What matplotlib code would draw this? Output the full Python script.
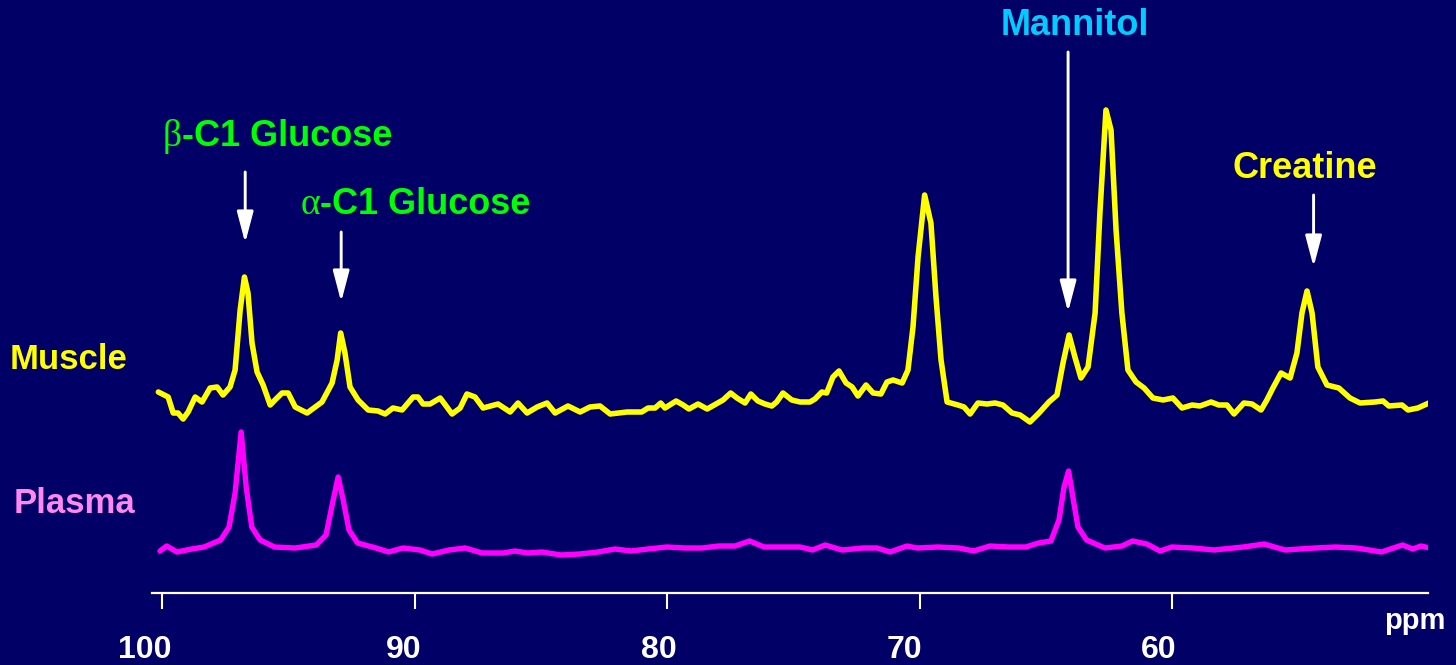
import numpy as np
import matplotlib.pyplot as plt
import matplotlib.transforms as mtransforms

# 13C spectra, chemical shift (ppm) and intensity above each baseline
muscle_ppm = [100.15, 99.76, 99.56, 99.37, 99.17, 98.97, 98.69, 98.42, 98.10, 97.82,
              97.59, 97.31, 97.11, 96.91, 96.74, 96.60, 96.44, 96.24, 96.00, 95.72,
              95.53, 95.25, 95.01, 94.73, 94.26, 93.94, 93.67, 93.27, 93.07, 92.93,
              92.76, 92.56, 92.24, 91.84, 91.45, 91.17, 90.86, 90.50, 90.06, 89.87,
              89.67, 89.39, 88.99, 88.52, 88.20, 87.93, 87.61, 87.29, 86.70, 86.22,
              85.91, 85.55, 85.15, 84.76, 84.44, 83.93, 83.45, 83.06, 82.66, 82.26,
              81.59, 81.01, 80.76, 80.48, 80.26, 80.09, 79.65, 79.37, 79.14, 78.78,
              78.42, 78.07, 77.79, 77.49, 77.24, 76.92, 76.69, 76.41, 76.13, 75.86,
              75.67, 75.42, 75.07, 74.74, 74.35, 74.15, 73.88, 73.69, 73.44, 73.20,
              72.92, 72.68, 72.45, 72.13, 71.85, 71.54, 71.30, 71.06, 70.70, 70.47,
              70.27, 70.07, 69.81, 69.56, 69.36, 69.16, 68.92, 68.49, 68.25, 68.01,
              67.70, 67.34, 67.02, 66.71, 66.35, 66.03, 65.64, 65.28, 64.89, 64.57,
              64.33, 64.09, 63.86, 63.62, 63.34, 63.06, 62.87, 62.63, 62.43, 62.23,
              62.00, 61.76, 61.44, 61.12, 60.77, 60.37, 59.98, 59.62, 59.22, 58.91,
              58.47, 58.16, 57.84, 57.56, 57.17, 56.85, 56.49, 56.26, 56.02, 55.70,
              55.34, 55.07, 54.87, 54.67, 54.47, 54.24, 53.88, 53.41, 52.97, 52.57,
              51.98, 51.66, 51.43, 50.91, 50.67, 50.28, 49.76]
muscle_int = [23, 18, 2, 2, -4, 3, 18, 13, 27, 28,
              20, 28, 45, 105, 138, 122, 72, 43, 30, 10,
              15, 22, 22, 8, 2, 8, 13, 32, 55, 82,
              62, 28, 15, 5, 4, 1, 7, 5, 18, 18,
              11, 11, 17, 1, 7, 21, 18, 7, 11, 3,
              12, 2, 8, 12, 2, 9, 3, 8, 9, 1,
              3, 3, 7, 7, 12, 7, 14, 10, 6, 11,
              6, 11, 15, 22, 17, 12, 21, 14, 11, 9,
              13, 22, 15, 13, 13, 16, 23, 22, 38, 44,
              32, 28, 19, 30, 22, 21, 33, 35, 32, 45,
              88, 158, 220, 192, 118, 55, 13, 10, 8, 1,
              12, 11, 12, 10, 2, 0, -7, 2, 13, 20,
              52, 80, 58, 37, 48, 102, 202, 305, 285, 185,
              102, 45, 33, 27, 17, 15, 17, 7, 10, 9,
              13, 10, 10, 1, 12, 11, 5, 15, 27, 42,
              37, 62, 102, 124, 102, 48, 30, 27, 17, 12,
              13, 14, 9, 10, 5, 7, 13]

plasma_ppm = [100.08, 99.82, 99.41, 98.83, 98.34, 97.68, 97.35, 97.11, 96.87, 96.67,
              96.45, 96.12, 95.55, 94.73, 93.90, 93.51, 93.25, 93.03, 92.83, 92.60,
              92.26, 91.53, 91.03, 90.46, 89.79, 89.31, 88.64, 88.00, 87.33, 86.50,
              86.03, 85.53, 84.96, 84.20, 83.47, 82.74, 82.07, 81.43, 80.76, 80.02,
              79.30, 78.62, 77.97, 77.32, 76.74, 76.17, 75.34, 74.74, 74.25, 73.75,
              73.08, 72.25, 71.69, 71.18, 70.51, 70.11, 69.28, 68.45, 67.87, 67.22,
              66.47, 65.80, 65.30, 64.81, 64.49, 64.29, 64.11, 63.94, 63.74, 63.40,
              62.67, 62.00, 61.58, 61.01, 60.49, 60.02, 59.19, 58.35, 57.19, 56.37,
              55.54, 54.35, 53.54, 52.71, 51.72, 50.89, 50.48, 50.16, 49.81]
plasma_int = [4, 9, 3, 6, 8, 15, 28, 62, 123, 68,
              28, 15, 8, 7, 10, 20, 52, 78, 55, 25,
              12, 7, 3, 7, 5, 1, 5, 7, 2, 2,
              4, 2, 3, 0, 1, 3, 6, 4, 6, 8,
              7, 7, 9, 9, 14, 8, 8, 8, 5, 10,
              5, 7, 7, 3, 9, 7, 8, 7, 4, 9,
              8, 8, 12, 14, 35, 68, 84, 58, 28, 15,
              7, 9, 14, 11, 4, 8, 7, 5, 8, 11,
              5, 7, 8, 7, 3, 10, 6, 9, 7]

tick_ppm = [100, 90, 80, 70, 60]
tick_text = ["100", "90", "80", "70", "60"]

bg = "#000066"
fig = plt.figure(figsize=(14.56, 6.65), dpi=100, facecolor=bg)
ax = fig.add_axes([152 / 1456, 72 / 665, 1276 / 1456, 593 / 665])
ax.set_facecolor(bg)

# stack the two traces
ax.plot(muscle_ppm, np.array(muscle_int) + 178, color="#ffff00", lw=4.0,
        solid_joinstyle="round", solid_capstyle="round")
ax.plot(plasma_ppm, np.array(plasma_int) + 38, color="#ff00ff", lw=3.9,
        solid_joinstyle="round", solid_capstyle="round")

ax.set_xlim(100.4, 49.88)
ax.set_ylim(0, 593)

for side in ["top", "left", "right"]:
    ax.spines[side].set_visible(False)
ax.spines["bottom"].set_color("white")
ax.spines["bottom"].set_linewidth(1.6)
ax.set_yticks([])
ax.set_xticks(tick_ppm)
ax.set_xticklabels(tick_text, fontsize=23, fontweight="bold", color="white",
                   family="Liberation Sans")
ax.tick_params(axis="x", direction="out", length=11.5, width=1.5, color="white", pad=19)

# labels sit a bit left of their ticks
shifts = [-17, -11, -8, -15, -14]
for lab, dx in zip(ax.get_xticklabels(), shifts):
    lab.set_transform(lab.get_transform() +
                      mtransforms.ScaledTranslation(dx / 100, 0, fig.dpi_scale_trans))

fig.text(1415 / 1456, 36 / 665, "ppm", ha="center", va="baseline", fontsize=21,
         fontweight="bold", color="white", family="Liberation Sans")

fig.text(10 / 1456, 296 / 665, "Muscle", ha="left", va="baseline", fontsize=25,
         fontweight="bold", color="#ffff00", family="Liberation Sans")
fig.text(14 / 1456, 152 / 665, "Plasma", ha="left", va="baseline", fontsize=25,
         fontweight="bold", color="#ff88ee", family="Liberation Sans")

arrow = dict(arrowstyle="-|>,head_length=1.9,head_width=0.5", color="white",
             lw=2.1, mutation_scale=10, shrinkA=0, shrinkB=0)

# glucose anomers
ax.text(99.21, 447, "\u03b2", ha="right", va="baseline", fontsize=27,
        color="#00ff00", family="Liberation Serif")
ax.text(99.21, 447, "-C1 Glucose", ha="left", va="baseline", fontsize=26,
        fontweight="bold", color="#00ff00", family="Liberation Sans")
ax.annotate("", xy=(96.71, 350), xytext=(96.71, 421), arrowprops=arrow)

ax.text(93.745, 379, "\u03b1", ha="right", va="baseline", fontsize=27,
        color="#00ff00", family="Liberation Serif")
ax.text(93.745, 379, "-C1 Glucose", ha="left", va="baseline", fontsize=26,
        fontweight="bold", color="#00ff00", family="Liberation Sans")
ax.annotate("", xy=(92.91, 291), xytext=(92.91, 361), arrowprops=arrow)

ax.text(63.88, 558, "Mannitol", ha="center", va="baseline", fontsize=26,
        fontweight="bold", color="#00ccff", family="Liberation Sans", clip_on=False)
ax.annotate("", xy=(64.13, 281), xytext=(64.13, 541), arrowprops=arrow)

ax.text(54.75, 415, "Creatine", ha="center", va="baseline", fontsize=26,
        fontweight="bold", color="#ffff00", family="Liberation Sans")
ax.annotate("", xy=(54.41, 326), xytext=(54.41, 398), arrowprops=arrow)

plt.savefig("out.png", dpi=100, facecolor=bg)
